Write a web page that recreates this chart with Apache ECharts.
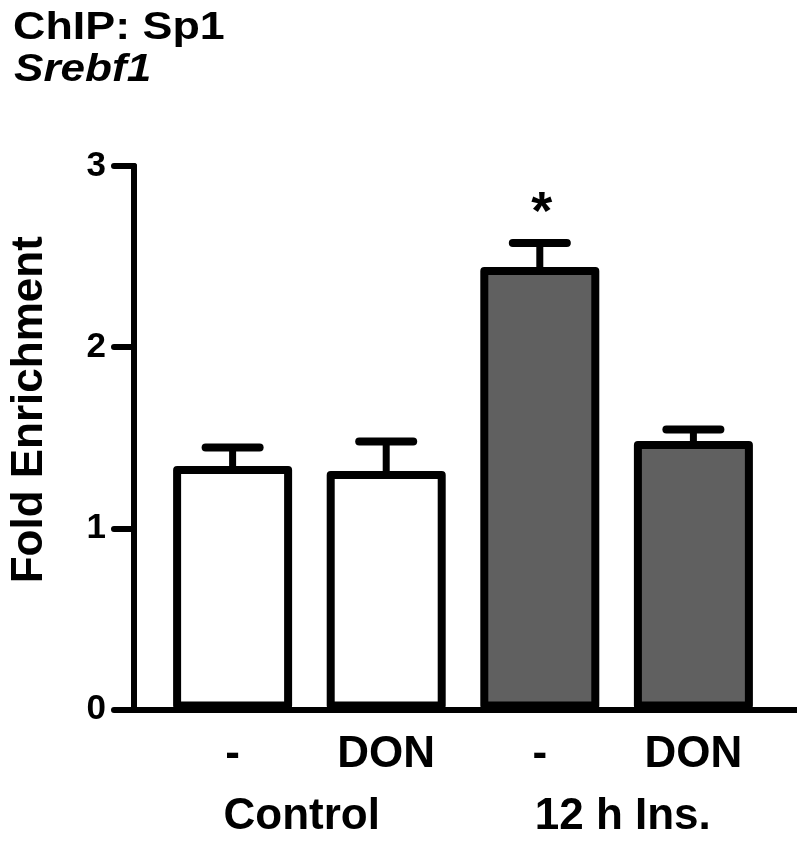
<!DOCTYPE html>
<html>
<head>
<meta charset="utf-8">
<script src="https://cdn.jsdelivr.net/npm/echarts@6/dist/echarts.min.js"></script>
<style>
html,body{margin:0;padding:0;background:#fff;}
#chart{width:797px;height:846px;}
</style>
</head>
<body>
<div id="chart"></div>
<script>
// ---- data ----
const positions = [1, 2, 3, 4];
const treatLabels = ['-', 'DON', '-', 'DON'];
const groupPositions = [1.45, 3.54];
const groupLabels = ['Control', '12 h Ins.'];
const means = [1.344, 1.316, 2.442, 1.482];
const upper = [1.446, 1.479, 2.575, 1.545];
const sig = ['', '', '*', ''];
const fills = ['#ffffff', '#ffffff', '#606060', '#606060'];
const yTicks = [0, 1, 2, 3];
const titleLines = ['ChIP: Sp1', 'Srebf1'];

const FONT = "'Liberation Sans', Arial, Helvetica, sans-serif";
const chart = echarts.init(document.getElementById('chart'), null, {renderer: 'canvas'});

const xMin = 0.358, xMax = 4.668;

chart.setOption({
  animation: false,
  backgroundColor: '#ffffff',
  graphic: [{
    type: 'text', left: 13, top: 10, scaleX: 1.18,
    style: {text: titleLines[0], font: 'bold 38px ' + FONT, fill: '#000'}
  }, {
    type: 'text', left: 14, top: 52, scaleX: 1.16,
    style: {text: titleLines[1], font: 'italic bold 38px ' + FONT, fill: '#000'}
  }],
  grid: {left: 128, right: 1, top: 166, bottom: 136.5, containLabel: false},
  xAxis: [{
    type: 'value',
    min: xMin, max: xMax,
    splitLine: {show: false},
    axisLine: {show: true, onZero: false, lineStyle: {color: '#000', width: 6, cap: 'round'}},
    axisTick: {show: false},
    axisLabel: {
      customValues: positions,
      margin: 23,
      fontFamily: FONT, fontSize: 44, fontWeight: 'bold', color: '#000',
      formatter: function (v) { const i = positions.indexOf(Math.round(v)); return i >= 0 ? treatLabels[i] : ''; }
    }
  }, {
    type: 'value',
    min: xMin, max: xMax,
    position: 'bottom',
    offset: 62,
    splitLine: {show: false},
    axisLine: {show: false},
    axisTick: {show: false},
    axisLabel: {
      customValues: groupPositions,
      margin: 23,
      fontFamily: FONT, fontSize: 44, fontWeight: 'bold', color: '#000',
      formatter: function (v) { const i = groupPositions.indexOf(v); return i >= 0 ? groupLabels[i] : ''; }
    }
  }],
  yAxis: {
    type: 'value',
    min: 0, max: 3, interval: 1,
    name: 'Fold Enrichment',
    nameLocation: 'middle',
    nameGap: 82,
    nameRotate: 90,
    nameTextStyle: {fontFamily: FONT, fontSize: 44, fontWeight: 'bold', color: '#000', padding: [0, 0, 0, 56]},
    splitLine: {show: false},
    axisLine: {show: true, lineStyle: {color: '#000', width: 6, cap: 'round'}},
    axisTick: {show: true, length: 20, lineStyle: {color: '#000', width: 6, cap: 'round'}},
    axisLabel: {
      margin: 28,
      fontFamily: FONT, fontSize: 35, fontWeight: 'bold', color: '#000',
      formatter: function (v) { return yTicks.indexOf(v) >= 0 ? String(v) : ''; }
    }
  },
  series: [{
    type: 'bar',
    barWidth: 119,
    data: positions.map(function (p, i) {
      return {value: [p, means[i]], itemStyle: {color: fills[i], borderColor: '#000', borderWidth: 8, borderJoin: 'round'}};
    }),
    z: 2
  }, {
    type: 'custom',
    z: 3,
    data: positions.map(function (p, i) { return [p, means[i], upper[i], i]; }),
    renderItem: function (params, api) {
      const x = api.value(0), m = api.value(1), u = api.value(2), i = api.value(3);
      const p0 = api.coord([x, m]);
      const p1 = api.coord([x, u]);
      const children = [{
        type: 'line',
        shape: {x1: p0[0], y1: p0[1], x2: p1[0], y2: p1[1]},
        style: {stroke: '#000', lineWidth: 7}
      }, {
        type: 'line',
        shape: {x1: p1[0] - 27, y1: p1[1], x2: p1[0] + 27, y2: p1[1]},
        style: {stroke: '#000', lineWidth: 8, lineCap: 'round'}
      }];
      if (sig[i]) {
        children.push({
          type: 'text',
          style: {text: sig[i], x: p1[0] + 2, y: p1[1] - 2, align: 'center', verticalAlign: 'bottom',
            font: 'bold 54px ' + FONT, fill: '#000'}
        });
      }
      return {type: 'group', children: children};
    }
  }]
});
</script>
</body>
</html>
